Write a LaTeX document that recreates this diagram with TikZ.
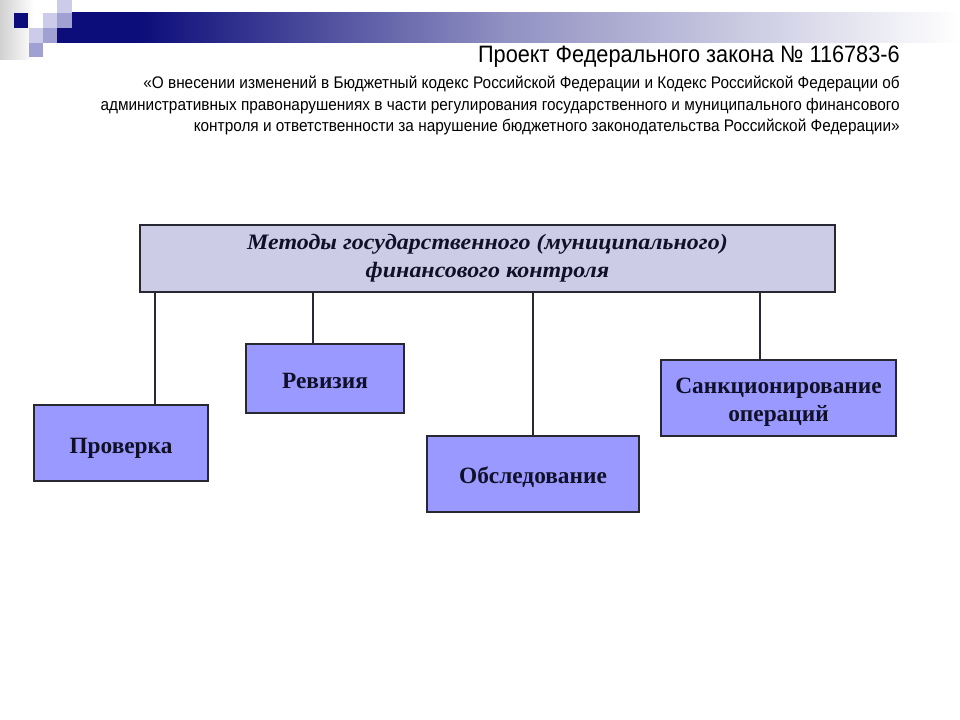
\documentclass[tikz,border=0pt]{standalone}
\usepackage{graphicx}
\usepackage{fontspec}
\setmainfont{Liberation Serif}
\newfontfamily\arialf{Liberation Sans}
\definecolor{navy}{RGB}{12,12,122}
\definecolor{lavlight}{RGB}{204,204,234}
\definecolor{lavmed}{RGB}{160,160,210}
\definecolor{headfill}{RGB}{204,204,230}
\definecolor{boxfill}{RGB}{153,153,255}
\definecolor{edge}{RGB}{40,40,50}
\definecolor{boxtext}{RGB}{16,16,40}
\begin{document}
\begin{tikzpicture}[x=0.75pt,y=-0.75pt,
  methodbox/.style={draw=edge,line width=1.2pt,fill=boxfill,inner sep=0pt,
    font=\fontsize{17.5}{21}\selectfont\bfseries,text=boxtext,text height=14.5pt,text depth=0pt},
  headbox/.style={draw=edge,line width=1.1pt,fill=headfill,inner sep=0pt,
    font=\fontsize{16.5}{19.5}\selectfont\bfseries\itshape,text=boxtext},
  link/.style={draw=edge,line width=0.9pt}]
\useasboundingbox (0,0) rectangle (960,720);
\fill[white] (0,0) rectangle (960,720);
% decoration
\shade[left color=black!18,right color=white] (0,0) rectangle (34,60);
\shade[left color=navy,right color=navy!45] (138,13) rectangle (508.5,43);
\shade[left color=navy!45,right color=white] (508,13) rectangle (960,43);
\fill[navy] (57,12.5) rectangle (139,43);
\fill[navy] (14,13) rectangle (28,28);
\fill[lavlight] (57,0) rectangle (72,13);
\fill[lavlight] (43,13) rectangle (57,28);
\fill[lavmed] (57,13) rectangle (72,28);
\fill[lavlight] (29,28) rectangle (43,43);
\fill[lavmed] (43,28) rectangle (57,43);
\fill[lavmed] (29,43) rectangle (43,57);
% titles
\node[anchor=base east,inner sep=0pt,font=\arialf\fontsize{17.8}{20}\selectfont] (title) at (900,63)
  {\scalebox{0.915}[1]{Проект Федерального закона № 116783-6}};
\node[anchor=base east,inner sep=0pt,font=\arialf\fontsize{12.6}{16.1}\selectfont] (sub) at (900,89)
  {\scalebox{0.915}[1]{\begin{tabular}[t]{@{}r@{}}«О внесении изменений в Бюджетный кодекс Российской Федерации и Кодекс Российской Федерации об\\
   административных правонарушениях в части регулирования государственного и муниципального финансового\\
   контроля и ответственности за нарушение бюджетного законодательства Российской Федерации»\end{tabular}}};
% boxes
\node[headbox,minimum width=695*0.75pt,minimum height=67*0.75pt,text height=0pt,text depth=13pt] (main) at (487.5,258.5)
  {\scalebox{1.09}[1]{\begin{tabular}[t]{@{}c@{}}Методы государственного (муниципального)\\[1.5pt]финансового контроля\end{tabular}}};
\node[methodbox,minimum width=174*0.75pt,minimum height=76*0.75pt,text height=15pt] (prov) at (121,443) {Проверка};
\node[methodbox,minimum width=158*0.75pt,minimum height=69*0.75pt,text height=15.5pt] (rev) at (325,378.5) {Ревизия};
\node[methodbox,minimum width=212*0.75pt,minimum height=76*0.75pt,text height=13.5pt] (obs) at (533,474) {Обследование};
\node[methodbox,minimum width=235*0.75pt,minimum height=76*0.75pt,text height=0pt,text depth=7.5pt] (sank) at (778.5,398)
  {\begin{tabular}[t]{@{}c@{}}Санкционирование\\операций\end{tabular}};
% connectors
\coordinate (c1) at (155,0);
\coordinate (c2) at (313,0);
\coordinate (c3) at (533,0);
\coordinate (c4) at (760,0);
\draw[link] (c1 |- main.south) -- (c1 |- prov.north);
\draw[link] (c2 |- main.south) -- (c2 |- rev.north);
\draw[link] (c3 |- main.south) -- (c3 |- obs.north);
\draw[link] (c4 |- main.south) -- (c4 |- sank.north);
\end{tikzpicture}
\end{document}
